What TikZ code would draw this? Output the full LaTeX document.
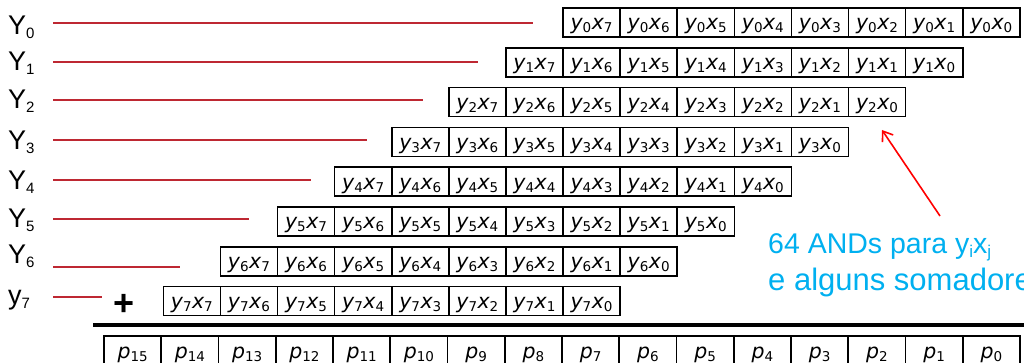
\documentclass[tikz,border=0pt]{standalone}
\usepackage{fontspec}
\setmainfont{Liberation Sans}
\newfontfamily\cellfont{DejaVu Sans}
\usetikzlibrary{arrows.meta}
\definecolor{wirered}{RGB}{190,40,50}
\definecolor{notered}{RGB}{255,0,0}
\definecolor{noteblue}{RGB}{0,176,240}
\newcommand{\cellsub}[1]{\raisebox{-3pt}{\upshape\fontsize{13.5}{13.5}\selectfont #1}}
\newcommand{\cellterm}[2]{y\cellsub{#1}\hspace{0.5pt}x\cellsub{#2}}
\newcommand{\pterm}[1]{p\cellsub{#1}}
\newcommand{\ylsub}[1]{\raisebox{-4pt}{\fontsize{15}{15}\selectfont #1}}
\newcommand{\notesub}[1]{\raisebox{-5pt}{\fontsize{17}{17}\selectfont #1}}
\tikzset{
  cellbox/.style={draw=black, line width=1.6pt, minimum width=57.1pt, minimum height=29pt,
    inner sep=0pt, text height=18pt, text depth=3pt,
    font=\cellfont\itshape\fontsize{20.5}{20.5}\selectfont},
  pbox/.style={cellbox, minimum width=57.25pt},
  ylabel/.style={anchor=base west, inner sep=0pt, font=\fontsize{27}{27}\selectfont},
  wire/.style={draw=wirered, line width=1.5pt},
  sumline/.style={draw=black, line width=3.5pt},
  plussign/.style={inner sep=0pt, font=\bfseries\fontsize{36}{36}\selectfont},
  notetext/.style={anchor=base west, inner sep=0pt, text=noteblue},
  notearrow/.style={draw=notered, line width=1.6pt, -{Straight Barb[length=9pt,width=13pt]}}
}
\begin{document}
\begin{tikzpicture}[x=1pt,y=-1pt]
\clip (0,0) rectangle (1024,363);
\fill[white] (0,0) rectangle (1024,363);
% partial-product rows
\foreach \r in {0,...,7} {
  \foreach \c in {0,...,7} {
    \pgfmathtruncatemacro\xi{7-\c}
    \node[cellbox] (r\r x\xi) at ({563 - 57.1*\r + 57.1*\c + 28.55}, {8 + 39.8*\r + 14.5}) {\cellterm{\r}{\xi}};
  }
}
% row labels
\node[ylabel] (Y0) at (8,35) {Y\ylsub{0}};
\node[ylabel] (Y1) at (8,71) {Y\ylsub{1}};
\node[ylabel] (Y2) at (8,109) {Y\ylsub{2}};
\node[ylabel] (Y3) at (8,150) {Y\ylsub{3}};
\node[ylabel] (Y4) at (8,190) {Y\ylsub{4}};
\node[ylabel] (Y5) at (8,228) {Y\ylsub{5}};
\node[ylabel] (Y6) at (8,263) {Y\ylsub{6}};
\node[ylabel] (Y7) at (8,304) {y\ylsub{7}};
% red wires
\foreach \k/\yy/\xe in {0/23/533, 1/62/478, 2/100/423, 3/140/367, 4/180/311, 5/219/249, 6/267/180, 7/297/102} {
  \coordinate (ws\k) at (53,\yy);
  \coordinate (we\k) at (\xe,\yy);
  \draw[wire] (ws\k) -- (we\k);
}
% plus sign and sum line
\node[plussign] (plus) at (124,305) {+};
\coordinate (sumL) at (93,325);
\coordinate (sumR) at (1026,325);
\draw[sumline] (sumL) -- (sumR);
% product bits
\foreach \c in {0,...,15} {
  \pgfmathtruncatemacro\pi{15-\c}
  \node[pbox] (p\pi) at ({104 + 57.25*\c + 28.625}, {336 + 14.5}) {\pterm{\pi}};
}
% note
\coordinate (atail) at (940,216);
\coordinate (ahead) at (882,130);
\draw[notearrow] (atail) -- (ahead);
\node[notetext, font=\fontsize{28.5}{28.5}\selectfont] (note1) at (768,253) {64 ANDs para y\notesub{i}x\notesub{j}};
\node[notetext, font=\fontsize{31}{31}\selectfont] (note2) at (768,290) {e alguns somadores};
\end{tikzpicture}
\end{document}
